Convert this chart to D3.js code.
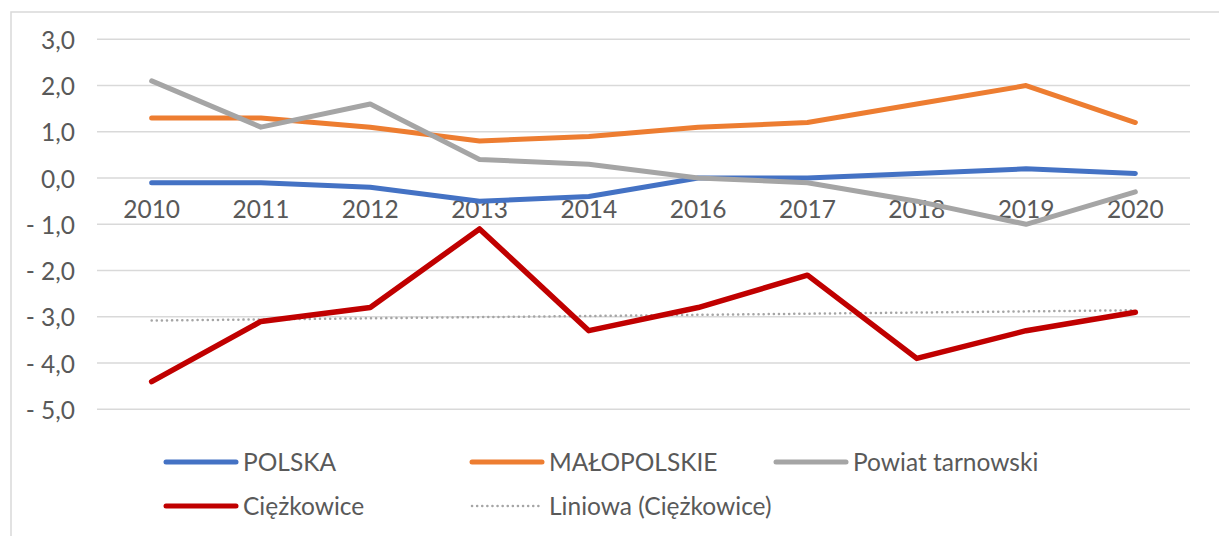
<!DOCTYPE html>
<html>
<head>
<meta charset="utf-8">
<script src="https://cdn.jsdelivr.net/npm/d3@7"></script>
<style>
  body { margin: 0; background: #fff; }
  svg { display: block; font-family: Lato, "Open Sans", sans-serif; }
</style>
</head>
<body>
<div id="chart"></div>
<script>
// years on the category axis
const years = ["2010", "2011", "2012", "2013", "2014", "2016", "2017", "2018", "2019", "2020"];

// series values
const polska = [-0.1, -0.1, -0.2, -0.5, -0.4, 0.0, 0.0, 0.1, 0.2, 0.1];
const malopolskie = [1.3, 1.3, 1.1, 0.8, 0.9, 1.1, 1.2, 1.6, 2.0, 1.2];
const powiat = [2.1, 1.1, 1.6, 0.4, 0.3, 0.0, -0.1, -0.5, -1.0, -0.3];
const ciezkowice = [-4.4, -3.1, -2.8, -1.1, -3.3, -2.8, -2.1, -3.9, -3.3, -2.9];

// y tick values
const yTicks = [3, 2, 1, 0, -1, -2, -3, -4, -5];

const width = 1219, height = 536;
const margin = { left: 97, right: 29, top: 40, bottom: 127 };
const fontSize = "24.5px";

const svg = d3.select("#chart").append("svg")
  .attr("width", width)
  .attr("height", height);

// chart frame (only top and left edges are inside the picture)
svg.append("rect")
  .attr("x", 11).attr("y", 12)
  .attr("width", width + 20).attr("height", height + 20)
  .attr("fill", "#fff")
  .attr("stroke", "#d9d9d9")
  .attr("stroke-width", 1.5);

const x = d3.scalePoint()
  .domain(years)
  .range([margin.left, width - margin.right])
  .padding(0.5);

const y = d3.scaleLinear()
  .domain([-5, 3])
  .range([409.3, 39.3]);

const fmt = v => {
  const s = Math.abs(v).toFixed(1).replace(".", ",");
  return v < 0 ? "- " + s : s;
};

// gridlines
svg.append("g")
  .selectAll("line")
  .data(yTicks)
  .enter().append("line")
  .attr("x1", margin.left)
  .attr("x2", width - margin.right)
  .attr("y1", d => y(d))
  .attr("y2", d => y(d))
  .attr("stroke", "#d9d9d9")
  .attr("stroke-width", 1.5);

// y labels
svg.append("g")
  .selectAll("text")
  .data(yTicks)
  .enter().append("text")
  .attr("x", 75)
  .attr("y", d => y(d) + 1)
  .attr("dy", "0.35em")
  .attr("text-anchor", "end")
  .attr("fill", "#595959")
  .style("font-size", fontSize)
  .text(fmt);

// x labels sit just below the zero line
svg.append("g")
  .selectAll("text")
  .data(years)
  .enter().append("text")
  .attr("x", d => x(d))
  .attr("y", y(0) + 39.5)
  .attr("text-anchor", "middle")
  .attr("fill", "#595959")
  .style("font-size", fontSize)
  .text(d => d);

// linear trend for Ciężkowice
const idx = d3.range(ciezkowice.length);
const mx = d3.mean(idx), my = d3.mean(ciezkowice);
const slope = d3.sum(idx, i => (i - mx) * (ciezkowice[i] - my)) / d3.sum(idx, i => (i - mx) ** 2);
const trend = idx.map(i => my + slope * (i - mx));

const series = [
  { name: "POLSKA", values: polska, color: "#4472c4", w: 5 },
  { name: "MAŁOPOLSKIE", values: malopolskie, color: "#ed7d31", w: 5 },
  { name: "Powiat tarnowski", values: powiat, color: "#a5a5a5", w: 5 },
  { name: "Ciężkowice", values: ciezkowice, color: "#c00000", w: 5.5 }
];

const line = d3.line()
  .x((d, i) => x(years[i]))
  .y(d => y(d));

svg.append("path")
  .attr("d", line(trend))
  .attr("fill", "none")
  .attr("stroke", "#a5a5a5")
  .attr("stroke-width", 2.5)
  .attr("stroke-dasharray", "0.1 5")
  .attr("stroke-linecap", "round");

series.forEach(s => {
  svg.append("path")
    .attr("d", line(s.values))
    .attr("fill", "none")
    .attr("stroke", s.color)
    .attr("stroke-width", s.w)
    .attr("stroke-linejoin", "round")
    .attr("stroke-linecap", "round");
});

// legend
const legendItems = [
  { name: "POLSKA", color: "#4472c4", col: 0, row: 0 },
  { name: "MAŁOPOLSKIE", color: "#ed7d31", col: 1, row: 0 },
  { name: "Powiat tarnowski", color: "#a5a5a5", col: 2, row: 0 },
  { name: "Ciężkowice", color: "#c00000", col: 0, row: 1 },
  { name: "Liniowa (Ciężkowice)", color: "#a5a5a5", col: 1, row: 1, dotted: true }
];
const colX = [166, 472, 776];
const rowY = [462, 506];

const legend = svg.append("g")
  .selectAll("g")
  .data(legendItems)
  .enter().append("g")
  .attr("transform", d => `translate(${colX[d.col]},${rowY[d.row]})`);

legend.append("line")
  .attr("x1", 0).attr("x2", d => d.dotted ? 68 : 70)
  .attr("stroke", d => d.color)
  .attr("stroke-width", d => d.dotted ? 2.5 : 5)
  .attr("stroke-dasharray", d => d.dotted ? "0.1 5" : null)
  .attr("stroke-linecap", "round");

legend.append("text")
  .attr("x", 77)
  .attr("dy", "0.35em")
  .attr("fill", "#595959")
  .style("font-size", fontSize)
  .text(d => d.name);
</script>
</body>
</html>
